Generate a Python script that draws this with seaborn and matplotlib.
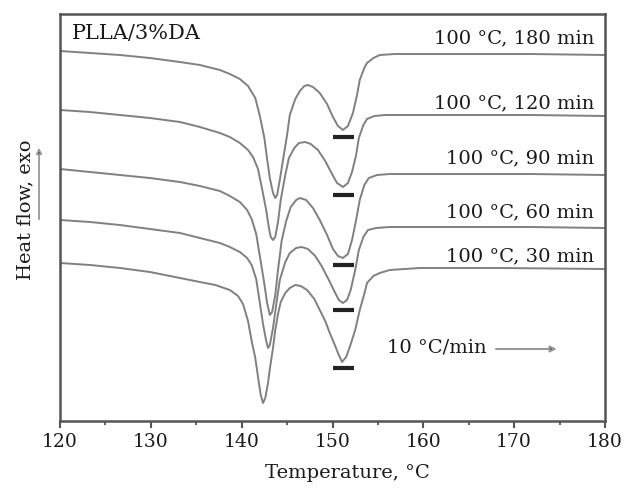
import matplotlib
matplotlib.use("Agg")
import matplotlib.pyplot as plt
import seaborn as sns
import pandas as pd

# Curvas DSC (temperatura em °C, fluxo de calor em u.a.)
t_180 = [120, 123.3, 126.6, 129.9, 133.2, 135.4, 137.6, 138.7, 139.8, 140.7,
         141.5, 142.0, 142.5, 142.8, 143.1, 143.45, 143.7, 143.9, 144.2, 144.55,
         145.0, 145.3, 145.9, 146.4, 146.9, 147.3, 147.85, 148.6, 149.4, 150.05,
         150.6, 151.15, 151.7, 152.25, 152.7, 153.0, 153.5, 153.8, 154.5, 155.2,
         156.9, 162.9, 171.7, 180]
hf_180 = [370, 368, 366, 363, 359, 356, 351, 347, 342, 335,
          323, 305, 283, 262, 243, 228, 223, 226, 241, 261,
          286, 306, 322, 330, 335, 336, 334, 328, 317, 304,
          295, 291, 295, 308, 326, 341, 353, 358, 363, 366,
          367, 367, 367, 366]

t_120 = [120, 123.3, 126.6, 129.9, 133.2, 135.4, 137.6, 138.7, 139.8, 140.7,
         141.25, 141.8, 142.25, 142.7, 143.0, 143.2, 143.45, 143.7, 144.0, 144.3,
         144.8, 145.2, 145.8, 146.3, 147.0, 147.6, 148.4, 149.2, 149.95, 150.5,
         151.15, 151.7, 152.15, 152.6, 152.9, 153.4, 153.8, 154.6, 155.8, 162.9,
         171.7, 180]
hf_120 = [311, 309, 306, 303, 299, 294, 288, 284, 278, 271,
          264, 252, 232, 211, 193, 184, 181, 184, 199, 221,
          246, 263, 273, 278, 279, 277, 271, 260, 247, 238,
          234, 238, 249, 266, 283, 296, 302, 305, 306, 306,
          306, 305]

t_90 = [120, 123.3, 126.6, 129.9, 133.2, 135.4, 137.6, 138.7, 139.8, 140.6,
        141.1, 141.6, 142.0, 142.5, 142.8, 143.1, 143.35, 143.7, 144.0, 144.4,
        144.9, 145.4, 146.0, 146.4, 147.1, 147.85, 148.6, 149.4, 150.05, 150.6,
        151.15, 151.7, 152.15, 152.6, 153.0, 153.5, 154.0, 154.9, 156.3, 162.9,
        171.7, 180]
hf_90 = [252, 249, 246, 243, 239, 235, 230, 225, 219, 211,
         202, 187, 165, 137, 118, 106, 109, 126, 151, 180,
         200, 214, 221, 223, 221, 213, 201, 186, 172, 165,
         163, 167, 181, 201, 221, 236, 243, 246, 247, 247,
         247, 246]

t_60 = [120, 123.3, 126.6, 129.9, 133.2, 135.4, 137.6, 138.7, 139.8, 140.6,
        141.1, 141.6, 142.0, 142.35, 142.7, 142.9, 143.1, 143.45, 143.8, 144.2,
        144.8, 145.3, 146.0, 146.6, 147.3, 148.1, 148.8, 149.6, 150.3, 150.7,
        151.15, 151.6, 152.0, 152.5, 152.9, 153.4, 153.9, 154.8, 156.3, 162.9,
        171.7, 180]
hf_60 = [201, 199, 196, 192, 188, 183, 178, 174, 169, 163,
         156, 142, 118, 97, 80, 73, 76, 93, 116, 141,
         159, 168, 173, 174, 172, 165, 155, 141, 128, 121,
         118, 121, 131, 151, 171, 184, 191, 193, 194, 194,
         194, 193]

t_30 = [120, 123.3, 126.6, 129.9, 133.2, 135.4, 137.1, 138.7, 139.6, 140.15,
        140.7, 141.1, 141.5, 141.8, 142.1, 142.35, 142.6, 142.9, 143.1, 143.45,
        143.7, 144.0, 144.3, 144.8, 145.3, 145.9, 146.5, 147.2, 148.0, 148.6,
        149.2, 149.7, 150.3, 150.6, 151.05, 151.5, 151.9, 152.5, 153.0, 153.5,
        153.8, 154.5, 155.2, 156.3, 159.6, 168.4, 180]
hf_30 = [158, 156, 153, 149, 143, 139, 136, 131, 125, 117,
         100, 80, 63, 44, 26, 18, 23, 38, 52, 73,
         91, 107, 119, 128, 133, 136, 135, 131, 122, 111,
         100, 88, 75, 68, 59, 64, 74, 91, 111, 127,
         138, 145, 148, 151, 153, 153, 152]

curvas = [
    ("100 °C, 180 min", t_180, hf_180),
    ("100 °C, 120 min", t_120, hf_120),
    ("100 °C, 90 min", t_90, hf_90),
    ("100 °C, 60 min", t_60, hf_60),
    ("100 °C, 30 min", t_30, hf_30),
]

# posição vertical dos rótulos e das barrinhas (mesmas unidades)
rotulo_hf = [383, 318, 263, 209, 165]
barra_hf = [284, 226, 156, 111, 53]

sns.set_style("ticks")
plt.rcParams['font.family'] = ['DejaVu Serif']

fig = plt.figure(figsize=(6.28, 4.88), dpi=100)
ax = fig.add_axes([60 / 628, 67 / 488, 545 / 628, 407 / 488])

for nome, t, hf in curvas:
    df = pd.DataFrame({"T": t, "HF": hf})
    sns.lineplot(data=df, x="T", y="HF", color="#808080", linewidth=1.4,
                 estimator=None, sort=False, ax=ax)

for (nome, t, hf), y in zip(curvas, rotulo_hf):
    ax.text(178.8, y, nome, ha="right", va="center", fontsize=14,
            color="#1a1a1a")

ax.hlines(barra_hf, 150.0, 152.4, color="#222222", linewidth=3)

ax.text(0.022, 0.975, "PLLA/3%DA", transform=ax.transAxes, ha="left",
        va="top", fontsize=15, color="#1a1a1a")

ax.text(156.0, 74, "10 °C/min", ha="left", va="center", fontsize=14,
        color="#1a1a1a")
ax.annotate("", xy=(175.0, 72), xytext=(167.7, 72),
            arrowprops=dict(arrowstyle="-|>", ec="#999999", fc="#111111",
                            lw=1.5, mutation_scale=9))

# eixo y: sem escala, só o rótulo com a seta
ax.text(-0.064, 0.518, "Heat flow, exo", transform=ax.transAxes,
        rotation=90, ha="center", va="center", fontsize=14, color="#1a1a1a")
ax.annotate("", xy=(-0.0385, 0.678), xytext=(-0.0385, 0.489),
            xycoords="axes fraction", annotation_clip=False,
            arrowprops=dict(arrowstyle="-|>", ec="#999999", fc="#111111",
                            lw=1.3, mutation_scale=8))

ax.set_xlim(120, 180)
ax.set_ylim(0, 407)
ax.set_xticks(range(120, 181, 10))
ax.set_xticks(range(125, 180, 10), minor=True)
ax.set_yticks([])
ax.tick_params(axis="x", which="major", length=5, width=1.5,
               labelsize=13.5, colors="#555555", labelcolor="#1a1a1a")
ax.tick_params(axis="x", which="minor", length=3, width=1.3,
               colors="#555555")
ax.set_xlabel("Temperature, °C", fontsize=14, color="#1a1a1a", labelpad=2)
ax.xaxis.set_label_coords(0.528, -0.105)
ax.set_ylabel("")

for s in ax.spines.values():
    s.set_color("#555555")
    s.set_linewidth(1.8)

fig.savefig("out.png", dpi=100)
